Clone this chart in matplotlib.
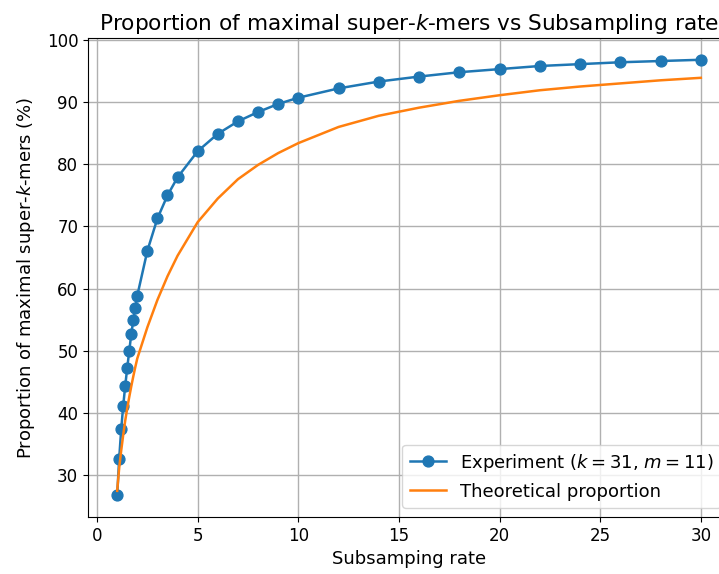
import numpy as np
import matplotlib
matplotlib.use('Agg')
import matplotlib.pyplot as plt

# subsampling rates used in the experiment
rates = [1.0, 1.1, 1.2, 1.3, 1.4, 1.5, 1.6, 1.7, 1.8, 1.9, 2.0, 2.5, 3.0, 3.5, 4.0,
         5, 6, 7, 8, 9, 10, 12, 14, 16, 18, 20, 22, 24, 26, 28, 30]

# measured proportion of maximal super-k-mers (%)
experiment = [26.8, 32.7, 37.4, 41.2, 44.4, 47.3, 50.0, 52.7, 54.9, 56.9, 58.9,
              66.1, 71.3, 75.0, 77.9, 82.1, 84.9, 86.9, 88.4, 89.7, 90.7,
              92.2, 93.3, 94.1, 94.8, 95.3, 95.8, 96.1, 96.4, 96.6, 96.8]

# theoretical proportion (%)
theory = [27.5, 31.2, 34.0, 36.5, 38.8, 40.8, 42.6, 44.3, 45.9, 47.4, 48.8,
          53.8, 58.2, 62.0, 65.3, 70.7, 74.5, 77.6, 79.9, 81.8, 83.4,
          86.0, 87.8, 89.1, 90.2, 91.1, 91.9, 92.5, 93.0, 93.5, 93.9]


def make_plot():
    plt.rcParams['font.size'] = 13
    plt.rcParams['xtick.labelsize'] = 12
    plt.rcParams['ytick.labelsize'] = 12
    fig = plt.figure(figsize=(7.19, 5.74), dpi=100)
    # axes run past the right edge, like the cropped original
    ax = fig.add_axes([88 / 719, 57 / 574, 642 / 719, 479 / 574])

    ax.plot(rates, experiment, marker='o', markersize=7.8, linewidth=1.8,
            color='#1f77b4', label='Experiment ($k = 31$, $m = 11$)')
    ax.plot(rates, theory, linewidth=1.8, color='#ff7f0e',
            label='Theoretical proportion')

    ax.set_title('Proportion of maximal super-$k$-mers vs Subsampling rate')
    ax.set_xlabel('Subsamping rate')
    ax.set_ylabel('Proportion of maximal super-$k$-mers (%)', labelpad=7)
    ax.grid(True, color='#b0b0b0', linewidth=1.0)
    ax.legend(loc='lower right')

    fig.savefig('out.png', dpi=100)


if __name__ == "__main__":
    make_plot()
    print("Done!")
